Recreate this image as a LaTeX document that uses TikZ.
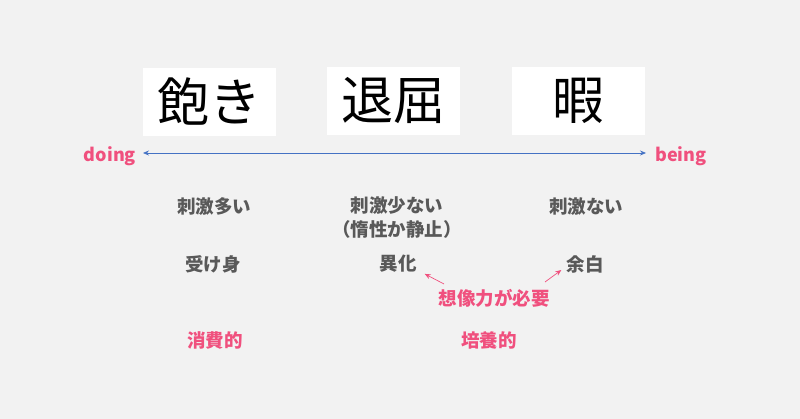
\documentclass[tikz,border=0pt]{standalone}
\usepackage{fontspec}
\newfontfamily\jp{Noto Sans CJK JP}
\usetikzlibrary{arrows.meta}
\definecolor{bg}{HTML}{F2F2F2}
\definecolor{pinkc}{HTML}{F0507E}
\definecolor{grayc}{HTML}{595959}
\definecolor{bluec}{HTML}{4472C4}
\tikzset{
  bigbox/.style={fill=white, minimum width=133pt, minimum height=68pt, inner sep=0pt, font=\jp\fontsize{52}{52}\selectfont, text=black},
  graylbl/.style={text=grayc, font=\jp\bfseries\fontsize{18.5}{22}\selectfont, inner sep=0pt, align=center},
  pinklbl/.style={text=pinkc, font=\jp\bfseries\fontsize{18.5}{22}\selectfont, inner sep=0pt},
  endlbl/.style={text=pinkc, font=\jp\bfseries\fontsize{18}{22}\selectfont, inner sep=0pt},
  pinkarrow/.style={draw=pinkc, line width=0.7pt, -{Stealth[length=6pt,width=5pt]}},
}
\begin{document}
\begin{tikzpicture}[x=1pt,y=-1pt]
\fill[bg] (0,0) rectangle (800,419);
\useasboundingbox (0,0) rectangle (800,419);
\node[bigbox] (akibox) at (209.5,102) {飽き};
\node[bigbox] (taikutsu) at (393.5,101) {退屈};
\node[bigbox] (hima) at (578.5,101) {暇};
\node[endlbl] (doing) at (110,156) {doing};
\node[endlbl] (being) at (681,156) {being};
\coordinate (la) at (143,153);
\coordinate (ra) at (646,153);
\draw[bluec, line width=0.7pt, {Stealth[length=6pt,width=5pt]}-{Stealth[length=6pt,width=5pt]}] (la) -- (ra);
\node[graylbl] (s1) at (214,207) {刺激多い};
\node[graylbl] (s2) at (397,206) {刺激少ない};
\node[graylbl] (s2b) at (397,229) {（惰性か静止）};
\node[graylbl] (s3) at (586,207) {刺激ない};
\node[graylbl] (u1) at (213,264) {受け身};
\node[graylbl] (u2) at (398,264) {異化};
\node[graylbl] (u3) at (585,264) {余白};
\node[pinklbl] (need) at (494,298) {想像力が必要};
\node[pinklbl] (c1) at (215,340) {消費的};
\node[pinklbl] (c2) at (489,340) {培養的};
\coordinate (t1) at (444,284);
\coordinate (t2) at (545,282);
\draw[pinkarrow] (t1) -- ([xshift=8pt,yshift=-1pt]u2.south east);
\draw[pinkarrow] (t2) -- ([xshift=-5pt,yshift=3pt]u3.south west);
\end{tikzpicture}
\end{document}
